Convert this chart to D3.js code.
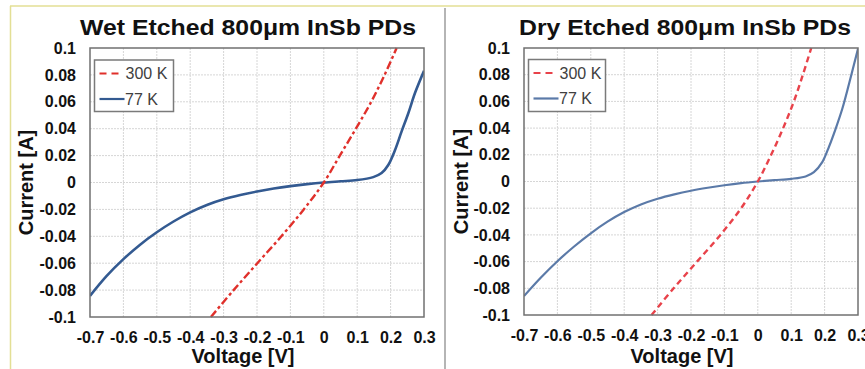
<!DOCTYPE html>
<html>
<head>
<meta charset="utf-8">
<title>InSb PDs IV curves</title>
<script src="https://d3js.org/d3.v7.min.js"></script>
<style>
  body { margin: 0; background: #fff; }
  text { font-family: "Liberation Sans", Arial, sans-serif; }
</style>
</head>
<body>
<div id="chart"></div>
<script>
// ---- data ----
var titles = ["Wet Etched 800\u03bcm InSb PDs", "Dry Etched 800\u03bcm InSb PDs"];
var seriesNames = ["300 K", "77 K"];
var xTicks = [-0.7, -0.6, -0.5, -0.4, -0.3, -0.2, -0.1, 0, 0.1, 0.2, 0.3];
var xTickLabels = ["-0.7", "-0.6", "-0.5", "-0.4", "-0.3", "-0.2", "-0.1", "0", "0.1", "0.2", "0.3"];
var yTicks = [-0.1, -0.08, -0.06, -0.04, -0.02, 0, 0.02, 0.04, 0.06, 0.08, 0.1];
var yTickLabels = ["-0.1", "-0.08", "-0.06", "-0.04", "-0.02", "0", "0.02", "0.04", "0.06", "0.08", "0.1"];

// wet etched
var wetV300 = [-0.338, -0.27, -0.199, -0.127, -0.06, 0, 0.048, 0.096, 0.142, 0.182, 0.218];
var wetI300 = [-0.1, -0.08, -0.06, -0.04, -0.02, 0, 0.02, 0.04, 0.06, 0.08, 0.1];
var wetV77 = [-0.7, -0.65, -0.6, -0.55, -0.5, -0.45, -0.4, -0.35, -0.3, -0.25, -0.2, -0.15, -0.1, -0.05, 0, 0.05, 0.1, 0.148, 0.173, 0.193, 0.213, 0.233, 0.253, 0.273, 0.3];
var wetI77 = [-0.0843, -0.0695, -0.057, -0.0462, -0.037, -0.029, -0.0222, -0.0167, -0.0125, -0.0093, -0.0067, -0.0045, -0.0027, -0.0012, 0, 0.0009, 0.0018, 0.004, 0.007, 0.013, 0.024, 0.038, 0.0515, 0.0665, 0.083];

// dry etched
var dryV300 = [-0.318, -0.252, -0.182, -0.112, -0.05, 0, 0.04, 0.076, 0.108, 0.135, 0.16];
var dryI300 = [-0.1, -0.08, -0.06, -0.04, -0.02, 0, 0.02, 0.04, 0.06, 0.08, 0.1];
var dryV77 = [-0.7, -0.65, -0.6, -0.55, -0.5, -0.45, -0.4, -0.35, -0.3, -0.25, -0.2, -0.15, -0.1, -0.05, 0, 0.05, 0.1, 0.143, 0.168, 0.193, 0.213, 0.233, 0.253, 0.273, 0.3];
var dryI77 = [-0.0858, -0.0721, -0.0597, -0.0487, -0.0388, -0.0301, -0.0229, -0.0172, -0.0129, -0.0096, -0.0069, -0.0047, -0.0028, -0.0012, 0, 0.001, 0.002, 0.0038, 0.007, 0.0145, 0.026, 0.0395, 0.0545, 0.073, 0.0995];

var W = 865, H = 369;

var svg = d3.select("#chart").append("svg")
    .attr("width", W)
    .attr("height", H);

// frame lines around the slide picture
svg.append("line").attr("x1", 10).attr("x2", W).attr("y1", 6).attr("y2", 6)
    .attr("stroke", "#e3df95").attr("stroke-width", 1.5);
svg.append("line").attr("x1", 10.5).attr("x2", 10.5).attr("y1", 6).attr("y2", H)
    .attr("stroke", "#e3df95").attr("stroke-width", 1.5);

function zip(a, b) {
  return a.map(function(v, i) { return {v: v, i: b[i]}; });
}

var panels = [
  { id: "wet", title: titles[0], left: 90, right: 424, top: 48, bottom: 317,
    titleX: 248, titleLen: 336, xTitleX: 243, yTitleX: 33,
    v300: wetV300, i300: wetI300, v77: wetV77, i77: wetI77,
    red: "#e0302b", redDash: "8,3,3,3", redWidth: 2.4,
    blue: "#335a91", blueWidth: 2.6,
    legX: 94.5, legY: 60, legW: 79, legH: 51.5 },
  { id: "dry", title: titles[1], left: 524, right: 858, top: 48, bottom: 315,
    titleX: 685, titleLen: 332, xTitleX: 682, yTitleX: 468,
    v300: dryV300, i300: dryI300, v77: dryV77, i77: dryI77,
    red: "#e8424a", redDash: "6,4", redWidth: 2.4,
    blue: "#5b7aa8", blueWidth: 2.2,
    legX: 528.5, legY: 59.5, legW: 77, legH: 52 }
];

panels.forEach(function(p) {
  var x = d3.scaleLinear().domain([-0.7, 0.3]).range([p.left, p.right]);
  var y = d3.scaleLinear().domain([-0.1, 0.1]).range([p.bottom, p.top]);
  var g = svg.append("g");

  // grid
  g.selectAll(".vgrid").data(xTicks.slice(1, -1)).enter().append("line")
      .attr("x1", function(d) { return x(d); }).attr("x2", function(d) { return x(d); })
      .attr("y1", p.top).attr("y2", p.bottom)
      .attr("stroke", "#d6d6d6").attr("stroke-width", 1).attr("stroke-dasharray", "2,1");
  g.selectAll(".hgrid").data(yTicks.slice(1, -1)).enter().append("line")
      .attr("x1", p.left).attr("x2", p.right)
      .attr("y1", function(d) { return y(d); }).attr("y2", function(d) { return y(d); })
      .attr("stroke", "#d6d6d6").attr("stroke-width", 1).attr("stroke-dasharray", "2,1");

  // axes (labels only)
  var xa = g.append("g")
      .attr("transform", "translate(0," + p.bottom + ")")
      .call(d3.axisBottom(x).tickValues(xTicks)
        .tickFormat(function(d, i) { return xTickLabels[i]; })
        .tickSize(0).tickPadding(15));
  var ya = g.append("g")
      .attr("transform", "translate(" + p.left + ",0)")
      .call(d3.axisLeft(y).tickValues(yTicks)
        .tickFormat(function(d, i) { return yTickLabels[i]; })
        .tickSize(0).tickPadding(14));
  [xa, ya].forEach(function(a) {
    a.select(".domain").remove();
    a.attr("font-family", null).attr("font-size", null);
    a.selectAll("text")
      .style("font-family", "'Liberation Sans', Arial, sans-serif")
      .style("font-size", "16px").style("font-weight", "bold").attr("fill", "#111");
  });

  // curves
  var clipId = "clip-" + p.id;
  svg.append("clipPath").attr("id", clipId).append("rect")
      .attr("x", p.left).attr("y", p.top - 1)
      .attr("width", p.right - p.left).attr("height", p.bottom - p.top + 2);

  var line = d3.line()
      .x(function(d) { return x(d.v); })
      .y(function(d) { return y(d.i); })
      .curve(d3.curveCatmullRom.alpha(0.5));

  g.append("path").datum(zip(p.v77, p.i77))
      .attr("clip-path", "url(#" + clipId + ")")
      .attr("d", line).attr("fill", "none")
      .attr("stroke", p.blue).attr("stroke-width", p.blueWidth);
  g.append("path").datum(zip(p.v300, p.i300))
      .attr("clip-path", "url(#" + clipId + ")")
      .attr("d", line).attr("fill", "none")
      .attr("stroke", p.red).attr("stroke-width", p.redWidth)
      .attr("stroke-dasharray", p.redDash);

  // plot border
  g.append("rect")
      .attr("x", p.left).attr("y", p.top)
      .attr("width", p.right - p.left).attr("height", p.bottom - p.top)
      .attr("fill", "none").attr("stroke", "#707070").attr("stroke-width", 1.5);

  // legend
  var lg = g.append("g").attr("transform", "translate(" + p.legX + "," + p.legY + ")");
  lg.append("rect").attr("width", p.legW).attr("height", p.legH)
      .attr("fill", "#fff").attr("stroke", "#7a7a7a").attr("stroke-width", 1.5);
  lg.append("line").attr("x1", 5).attr("x2", 24).attr("y1", 13.5).attr("y2", 13.5)
      .attr("stroke", p.red).attr("stroke-width", 2).attr("stroke-dasharray", "7,5");
  lg.append("line").attr("x1", 5).attr("x2", 30).attr("y1", 39).attr("y2", 39)
      .attr("stroke", p.blue).attr("stroke-width", 2.2);
  lg.append("text").attr("x", 31).attr("y", 19).text(seriesNames[0])
      .attr("font-size", 16).attr("fill", "#404040");
  lg.append("text").attr("x", 30.5).attr("y", 44.5).text(seriesNames[1])
      .attr("font-size", 16).attr("fill", "#404040");

  // titles
  g.append("text").attr("x", p.titleX).attr("y", 35)
      .attr("text-anchor", "middle").attr("font-size", 22).attr("font-weight", "bold")
      .attr("textLength", p.titleLen).attr("lengthAdjust", "spacingAndGlyphs")
      .attr("fill", "#111").text(p.title);
  g.append("text").attr("x", p.xTitleX).attr("y", 363)
      .attr("text-anchor", "middle").attr("font-size", 20).attr("font-weight", "bold")
      .attr("fill", "#111").text("Voltage [V]");
  g.append("text")
      .attr("transform", "translate(" + p.yTitleX + "," + (p.top + p.bottom) / 2 + ") rotate(-90)")
      .attr("text-anchor", "middle").attr("font-size", 20).attr("font-weight", "bold")
      .attr("fill", "#111").text("Current [A]");
});

// separator between the two slides
svg.append("line").attr("x1", 445).attr("x2", 445).attr("y1", 8).attr("y2", H)
    .attr("stroke", "#b5b5b5").attr("stroke-width", 2);
</script>
</body>
</html>
